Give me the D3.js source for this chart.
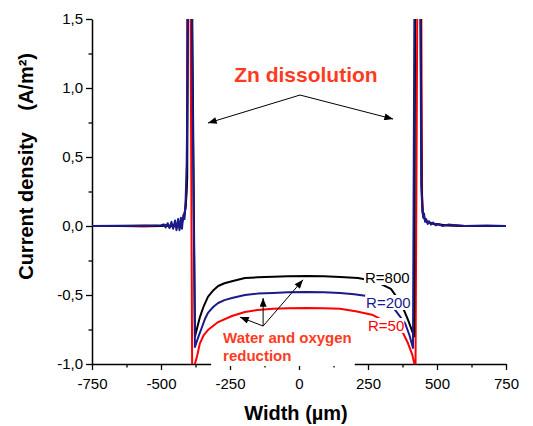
<!DOCTYPE html>
<html><head><meta charset="utf-8">
<script src="https://cdn.jsdelivr.net/npm/d3@7"></script>
<style>
body{margin:0;background:#fff}
svg{display:block}
text{font-family:"Liberation Sans",Arial,sans-serif}
</style>
</head><body>
<svg id="c" width="533" height="426"></svg>
<script>
// ---- data ----
const xTickValues = [-750, -500, -250, 0, 250, 500, 750];
const xTickLabels = ["-750", "-500", "-250", "0", "250", "500", "750"];
const xMinorTicks = [-625, -375, -125, 125, 375, 625];
const yTickValues = [-1, -0.5, 0, 0.5, 1, 1.5];
const yTickLabels = ["-1,0", "-0,5", "0,0", "0,5", "1,0", "1,5"];
const yMinorTicks = [-0.75, -0.25, 0.25, 0.75, 1.25];

// R=800 (black)
const r800 = [[-750,0],[-650,0],[-560,0.003],[-500,0],[-480,0.005],[-470,-0.005],[-462,0.01],[-455,-0.008],[-448,0.015],[-441,-0.01],[-434,0.02],[-428,-0.01],[-422,0.04],[-416,0.07],[-410,0.15],[-405,0.35],[-400,3],[-393,3],[-377,-0.80],[-368,-0.73],[-359,-0.66],[-345,-0.58],[-330,-0.514],[-310,-0.465],[-293,-0.435],[-270,-0.415],[-243,-0.40],[-196,-0.377],[-150,-0.372],[-94,-0.368],[-40,-0.364],[29,-0.362],[90,-0.365],[149,-0.37],[214,-0.377],[275,-0.40],[333,-0.456],[370,-0.56],[395,-0.68],[417,-0.80],[423,3],[437,3],[444,0.3],[448,0.1],[455,0.05],[465,0.03],[490,0.015],[530,0.005],[600,0],[680,0],[750,0]];
// R=200 (navy)
const r200 = [[-750,0],[-650,0.002],[-560,0],[-500,0.005],[-490,0.012],[-483,-0.01],[-476,0.02],[-469,-0.015],[-462,0.03],[-456,-0.02],[-449,0.04],[-444,-0.03],[-438,0.05],[-433,-0.03],[-428,0.06],[-424,-0.02],[-419,0.08],[-415,0.05],[-411,0.17],[-407,0.45],[-404,1.0],[-401,3],[-395,3],[-377,-0.877],[-364,-0.80],[-351,-0.73],[-340,-0.67],[-330,-0.63],[-310,-0.585],[-293,-0.558],[-270,-0.537],[-243,-0.522],[-196,-0.50],[-150,-0.49],[-94,-0.485],[-40,-0.48],[29,-0.478],[90,-0.48],[149,-0.485],[200,-0.495],[246,-0.507],[300,-0.545],[345,-0.60],[384,-0.703],[400,-0.79],[413,-0.884],[421,3],[436,3],[443,0.3],[446,0.15],[450,0.06],[453,0.09],[457,0.03],[461,0.05],[466,0.015],[471,0.035],[478,0.01],[486,0.025],[495,0.005],[505,0.015],[520,0],[540,0.01],[600,0],[680,0.003],[750,0]];
// R=50 (red)
const r50 = [[-750,0],[-650,0],[-560,-0.003],[-500,0],[-480,0.005],[-465,-0.005],[-450,0.01],[-440,0],[-430,0.02],[-420,0.05],[-412,0.12],[-406,0.3],[-403,3],[-396,3],[-387,-1.1],[-380,-1.02],[-370,-0.95],[-359,-0.85],[-345,-0.79],[-330,-0.754],[-293,-0.696],[-243,-0.652],[-196,-0.623],[-150,-0.608],[-94,-0.60],[-40,-0.596],[29,-0.594],[90,-0.596],[149,-0.60],[210,-0.62],[268,-0.645],[320,-0.70],[377,-0.775],[395,-0.85],[410,-0.93],[417,-0.99],[422,-1.1],[432,3],[440,3],[446,0.22],[449,0.08],[456,0.05],[464,0.03],[480,0.02],[493,0.015],[530,0.005],[600,0],[750,0]];

const seriesOrder = ["R=50", "R=800", "R=200"];
const seriesData = {"R=50": r50, "R=800": r800, "R=200": r200};
const seriesColors = {"R=50": "#ff0000", "R=800": "#000000", "R=200": "#1a1a8c"};

// curve labels: [text, x, y(baseline)] in data units
const curveLabels = [["R=800", 239, -0.413], ["R=200", 243, -0.594], ["R=50", 250, -0.761]];
// annotation arrows: [fromX, fromY, toX, toY]
const znArrows = [[3.6, 0.949, -330, 0.746], [3.6, 0.949, 341, 0.775]];
const waterArrows = [[-130, -0.725, -214, -0.66], [-130, -0.725, -130, -0.522], [-130, -0.725, 14.5, -0.39]];

// ---- drawing ----
const svg = d3.select("#c");
const x = d3.scaleLinear().domain([-750, 750]).range([92, 506]);
const y = d3.scaleLinear().domain([-1, 1.5]).range([364, 19]);
const annColor = "#ff3b1f";

svg.append("defs").append("clipPath").attr("id", "clip")
  .append("rect").attr("x", 92).attr("y", 19).attr("width", 414).attr("height", 345);
const mk = svg.select("defs").append("marker").attr("id", "ah")
  .attr("viewBox", "0 0 10 8").attr("refX", 10).attr("refY", 4)
  .attr("markerWidth", 10).attr("markerHeight", 7).attr("markerUnits", "userSpaceOnUse")
  .attr("orient", "auto");
mk.append("path").attr("d", "M0,0 L10,4 L0,8 Z").attr("fill", "#000");

// axes
const gx = svg.append("g").attr("transform", "translate(0,364)")
  .call(d3.axisBottom(x).tickValues(xTickValues).tickSize(6).tickSizeOuter(0).tickPadding(8)
    .tickFormat((d, i) => xTickLabels[i]));
const gxm = svg.append("g").attr("transform", "translate(0,364)")
  .call(d3.axisBottom(x).tickValues(xMinorTicks).tickSize(3.5).tickFormat(""));
gxm.select(".domain").remove();
const gy = svg.append("g").attr("transform", "translate(92,0)")
  .call(d3.axisLeft(y).tickValues(yTickValues).tickSize(6).tickSizeOuter(0).tickPadding(3)
    .tickFormat((d, i) => yTickLabels[i]));
const gym = svg.append("g").attr("transform", "translate(92,0)")
  .call(d3.axisLeft(y).tickValues(yMinorTicks).tickSize(3.5).tickFormat(""));
gym.select(".domain").remove();
svg.selectAll(".domain").attr("stroke-width", 1.5);
svg.selectAll(".tick line").attr("stroke-width", 1.3);
svg.selectAll(".tick text").attr("font-size", 15).attr("font-family", '"Liberation Sans",Arial,sans-serif').attr("fill", "#000");

// curves
const line = d3.line().x(d => x(d[0])).y(d => y(d[1]));
const gc = svg.append("g").attr("clip-path", "url(#clip)");
seriesOrder.forEach(k => {
  gc.append("path").datum(seriesData[k]).attr("d", line)
    .attr("fill", "none").attr("stroke", seriesColors[k]).attr("stroke-width", 2)
    .attr("stroke-linejoin", "round");
});

// curve labels with white boxes
curveLabels.forEach((l, i) => {
  const k = l[0];
  const g = svg.append("g");
  const r = g.append("rect").attr("fill", "#fff");
  const t = g.append("text").attr("x", x(l[1])).attr("y", y(l[2])).text(k)
    .attr("font-size", 15).attr("fill", k === "R=800" ? "#000" : seriesColors[k]);
  const b = t.node().getBBox();
  r.attr("x", b.x - 1).attr("y", b.y + 1).attr("width", b.width + 1).attr("height", b.height - 2);
});

// water label
const gw = svg.append("g");
const wr = gw.append("rect").attr("fill", "#fff");
const wt = gw.append("text").attr("font-size", 15).attr("font-weight", "bold").attr("fill", annColor);
wt.append("tspan").attr("x", x(-275)).attr("y", y(-0.848)).text("Water and oxygen");
wt.append("tspan").attr("x", x(-275)).attr("y", y(-0.978)).text("reduction");
const wb = wt.node().getBBox();
wr.attr("x", wb.x - 12).attr("y", wb.y + 2).attr("width", wb.width + 15).attr("height", 366 - (wb.y + 2));

// Zn label
svg.append("text").attr("x", x(25)).attr("y", y(1.043)).attr("text-anchor", "middle")
  .attr("font-size", 21).attr("font-weight", "bold").attr("fill", annColor).text("Zn dissolution");

// arrows
znArrows.concat(waterArrows).forEach(a => {
  svg.append("line").attr("x1", x(a[0])).attr("y1", y(a[1])).attr("x2", x(a[2])).attr("y2", y(a[3]))
    .attr("stroke", "#000").attr("stroke-width", 1).attr("marker-end", "url(#ah)");
});

// axis titles
svg.append("text").attr("x", 296).attr("y", 420).attr("text-anchor", "middle")
  .attr("font-size", 20).attr("font-weight", "bold").text("Width (µm)");
svg.append("text").attr("transform", "translate(33,53) rotate(-90)").attr("text-anchor", "end")
  .attr("font-size", 20).attr("font-weight", "bold").text("(A/m²)");
svg.append("text").attr("transform", "translate(33,132) rotate(-90)").attr("text-anchor", "end")
  .attr("font-size", 20).attr("font-weight", "bold").text("Current density");
</script>
</body></html>
